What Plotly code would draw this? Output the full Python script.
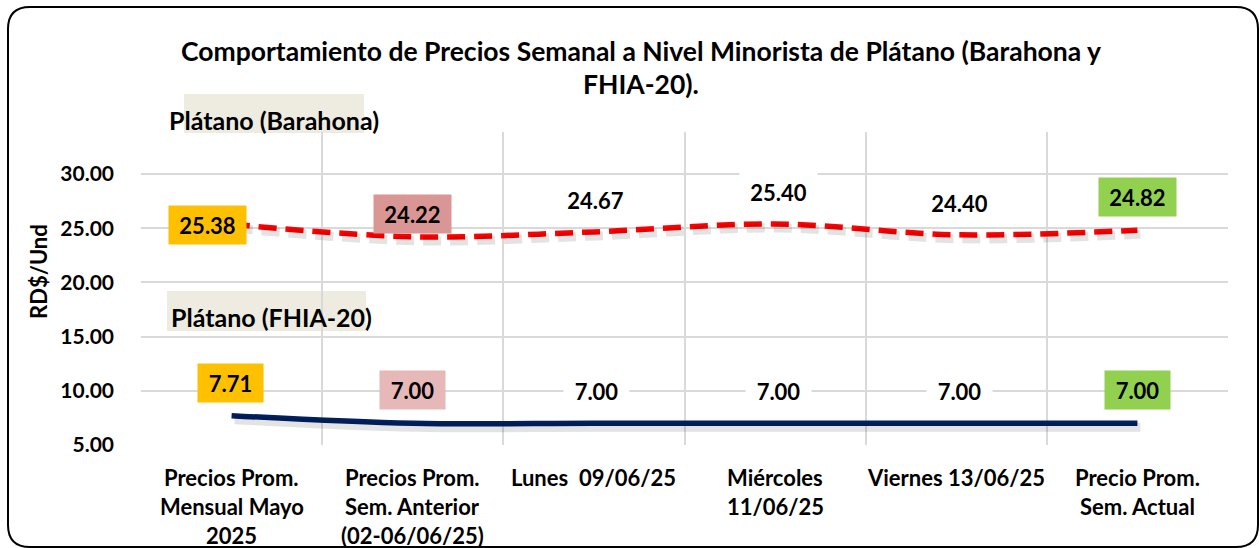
import plotly.graph_objects as go

# ---------------- data ----------------
categories = [
    "Precios Prom.<br>Mensual Mayo<br>2025",
    "Precios Prom.<br>Sem. Anterior<br>(02-06/06/25)",
    "Lunes\u00a0 09/06/25",
    "Miércoles<br>11/06/25",
    "Viernes 13/06/25",
    "Precio Prom.<br>Sem. Actual",
]
barahona = [25.38, 24.22, 24.67, 25.40, 24.40, 24.82]
fhia = [7.71, 7.00, 7.00, 7.00, 7.00, 7.00]
y_ticks = [5, 10, 15, 20, 25, 30]
title_lines = [
    "Comportamiento de Precios Semanal a Nivel Minorista de Plátano (Barahona y",
    "FHIA-20).",
]
series_names = ["Plátano (Barahona)", "Plátano (FHIA-20)"]
y_title = "RD$/Und"

# ---------------- styles ----------------
W, H = 1260, 548
L, R, T, B = 141, 32, 132, 103
PW, PH = W - L - R, H - T - B
Y0, Y1 = 5, 5 + PH / 10.835
FONT = "Lato"
RED = "#FF0000"
NAVY = "#002060"
GRID = "#D9D9D9"

bar_label_bg = ["#FFC000", "#D99694", "white", "white", "white", "#92D050"]
bar_label_dx = [-24, 0, 2, 3, 3, 0]
bar_label_dy = [-1, 23, 32, 32, 32, 33]
fh_label_bg = ["#FFC000", "#E6B9B8", "white", "white", "white", "#92D050"]
fh_label_dx = [-1, 0, 3, 3, 3, 0]
fh_label_dy = [33, 33, 32, 32, 32, 33]


def px_x(px):
    return (px - L) / PW


def px_y(py):
    return (H - B - py) / PH


xs = list(range(len(categories)))
fig = go.Figure()

# shadows (offset overlay axes)
sx = 3 / (PW / 6)
sy = 4 / (PH / (Y1 - Y0))
fig.add_trace(go.Scatter(x=xs, y=barahona, mode="lines", xaxis="x2", yaxis="y2",
                         line=dict(color="rgba(0,0,0,0.11)", width=9, shape="spline", dash="18px,9px"),
                         hoverinfo="skip", showlegend=False))
fig.add_trace(go.Scatter(x=xs, y=fhia, mode="lines", xaxis="x2", yaxis="y2",
                         line=dict(color="rgba(0,0,0,0.11)", width=9, shape="spline"),
                         hoverinfo="skip", showlegend=False))

fig.add_trace(go.Scatter(x=xs, y=barahona, mode="lines", name=series_names[0],
                         line=dict(color=RED, width=5.5, shape="spline", dash="18px,9px"),
                         showlegend=False))
fig.add_trace(go.Scatter(x=xs, y=fhia, mode="lines", name=series_names[1],
                         line=dict(color=NAVY, width=5.5, shape="spline"),
                         showlegend=False))

annotations = []
# data labels
for i, v in enumerate(barahona):
    annotations.append(dict(x=i, y=v, xref="x", yref="y", text=f"<b>{v:.2f}</b>",
                            showarrow=False, xshift=bar_label_dx[i], yshift=bar_label_dy[i],
                            bgcolor=bar_label_bg[i], width=63, height=24, borderpad=7,
                            font=dict(family=FONT, size=22, color="black")))
for i, v in enumerate(fhia):
    annotations.append(dict(x=i, y=v, xref="x", yref="y", text=f"<b>{v:.2f}</b>",
                            showarrow=False, xshift=fh_label_dx[i], yshift=fh_label_dy[i],
                            bgcolor=fh_label_bg[i], width=51, height=24, borderpad=7,
                            font=dict(family=FONT, size=22, color="black")))

# category labels (one annotation per line)
line_y = [477, 506.5, 535.5]
for i, c in enumerate(categories):
    for j, ln in enumerate(c.split("<br>")):
        annotations.append(dict(x=i, y=px_y(line_y[j]), xref="x", yref="paper",
                                text=f"<b>{ln}</b>", showarrow=False,
                                xanchor="center", yanchor="middle",
                                font=dict(family=FONT, size=22, color="black")))

# title
for j, (t, yy) in enumerate(zip(title_lines, [51, 84])):
    annotations.append(dict(x=px_x(641), y=px_y(yy), xref="paper", yref="paper",
                            text=f"<b>{t}</b>", showarrow=False, xanchor="center", yanchor="middle",
                            font=dict(family=FONT, size=26.5, color="black")))

# series tags
annotations.append(dict(x=px_x(167), y=px_y(120), xref="paper", yref="paper",
                        text=f"<b>{series_names[0]}</b>", showarrow=False,
                        xanchor="left", yanchor="middle",
                        font=dict(family=FONT, size=25, color="black")))
annotations.append(dict(x=px_x(169), y=px_y(317), xref="paper", yref="paper",
                        text=f"<b>{series_names[1]}</b>", showarrow=False,
                        xanchor="left", yanchor="middle",
                        font=dict(family=FONT, size=25, color="black")))

# y title
annotations.append(dict(x=px_x(38.5), y=px_y(271.5), xref="paper", yref="paper",
                        text=f"<b>{y_title}</b>", showarrow=False, textangle=-90,
                        xanchor="center", yanchor="middle",
                        font=dict(family=FONT, size=22, color="black")))

shapes = [
    dict(type="rect", xref="paper", yref="paper", layer="below",
         x0=px_x(184), x1=px_x(364), y0=px_y(133), y1=px_y(94),
         fillcolor="#EEECE1", line=dict(width=0)),
    dict(type="rect", xref="paper", yref="paper", layer="below",
         x0=px_x(167), x1=px_x(366), y0=px_y(331), y1=px_y(291),
         fillcolor="#EEECE1", line=dict(width=0)),
]
# outer rounded border
bx0, bx1, by0, by1, rr = 8, 1258, 7, 547, 22
path = (f"M {px_x(bx0 + rr)},{px_y(by0)} L {px_x(bx1 - rr)},{px_y(by0)} "
        f"Q {px_x(bx1)},{px_y(by0)} {px_x(bx1)},{px_y(by0 + rr)} "
        f"L {px_x(bx1)},{px_y(by1 - rr)} Q {px_x(bx1)},{px_y(by1)} {px_x(bx1 - rr)},{px_y(by1)} "
        f"L {px_x(bx0 + rr)},{px_y(by1)} Q {px_x(bx0)},{px_y(by1)} {px_x(bx0)},{px_y(by1 - rr)} "
        f"L {px_x(bx0)},{px_y(by0 + rr)} Q {px_x(bx0)},{px_y(by0)} {px_x(bx0 + rr)},{px_y(by0)} Z")
shapes.append(dict(type="path", xref="paper", yref="paper", path=path,
                   line=dict(color="black", width=2), layer="above"))

fig.update_layout(
    width=W, height=H,
    margin=dict(l=L, r=R, t=T, b=B),
    paper_bgcolor="white", plot_bgcolor="white",
    showlegend=False,
    xaxis=dict(range=[-0.5, 5.5], tickvals=xs, ticktext=[""] * 6, showgrid=False,
               zeroline=False, showline=False, ticks="", fixedrange=True,
               minor=dict(tickvals=[k - 0.5 for k in range(7)], showgrid=True,
                          gridcolor=GRID, gridwidth=1.5, ticks="")),
    yaxis=dict(range=[Y0, Y1], tickvals=y_ticks, ticktext=[f"{v:.2f}" for v in y_ticks],
               showgrid=True, gridcolor=GRID, gridwidth=1.5, zeroline=False,
               showline=False, ticks="", ticklabelstandoff=26,
               tickfont=dict(family=FONT, size=21, color="black", weight="bold")),
    xaxis2=dict(range=[-0.5 - sx, 5.5 - sx], overlaying="x", visible=False, fixedrange=True),
    yaxis2=dict(range=[Y0 + sy, Y1 + sy], overlaying="y", visible=False),
    annotations=annotations,
    shapes=shapes,
    font=dict(family=FONT),
)

fig.write_html("out.html", config={"displayModeBar": False},
               post_script="document.body.style.margin='0';document.body.style.overflow='hidden';")
